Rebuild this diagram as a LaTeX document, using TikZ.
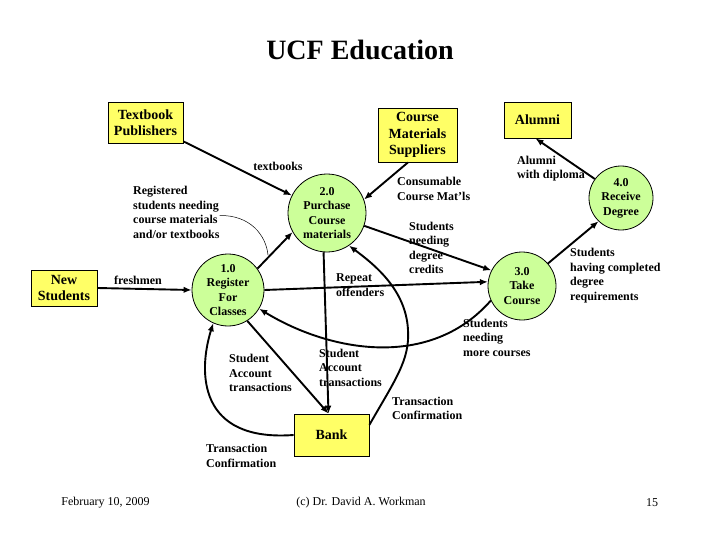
\documentclass[tikz,border=0pt]{standalone}
\usepackage{fontspec}
\setmainfont{Liberation Serif}
\usetikzlibrary{arrows.meta}
\definecolor{boxyellow}{HTML}{FFFF66}
\definecolor{procgreen}{HTML}{CCFF99}
\begin{document}
\begin{tikzpicture}[x=1pt,y=-1pt,
  lbl/.style={font=\fontsize{12}{14.5}\selectfont\bfseries, align=left, inner sep=0pt, anchor=west},
  extbox/.style={draw=black, line width=0.8pt, fill=boxyellow, font=\fontsize{14}{16.5}\selectfont\bfseries, align=center, inner sep=0pt},
  proc/.style={circle, draw=black, line width=0.8pt, fill=procgreen, font=\fontsize{12}{14.5}\selectfont\bfseries, align=center, inner sep=0pt},
  flow/.style={line width=1.9pt, -{Latex[length=8pt,width=6.5pt]}},
  footer/.style={font=\fontsize{12}{14}\selectfont, inner sep=0pt}]
\useasboundingbox (0,0) rectangle (720,540);
\fill[white] (0,0) rectangle (720,540);

\node[font=\fontsize{28}{32}\selectfont\bfseries] (title) at (360,50) {UCF Education};

% external entities
\node[extbox, minimum width=75pt, minimum height=41pt] (tp) at (145.5,122.5) {Textbook\\Publishers};
\node[extbox, minimum width=79pt, minimum height=54pt] (cms) at (417.5,135) {Course\\Materials\\Suppliers};
\node[extbox, minimum width=67pt, minimum height=36pt] (al) at (537.5,120) {Alumni};
\node[extbox, minimum width=66pt, minimum height=36pt] (ns) at (64,288) {New\\Students};
\node[extbox, minimum width=75pt, minimum height=42pt] (bank) at (331.5,435) {Bank};

% processes
\node[proc, minimum size=78pt] (p2) at (327,213) {2.0\\Purchase\\Course\\materials};
\node[proc, minimum size=72pt] (p1) at (228,290) {1.0\\Register\\For\\Classes};
\node[proc, minimum size=68pt] (p3) at (522,286) {3.0\\Take\\Course};
\node[proc, minimum size=64pt] (p4) at (621,198) {4.0\\Receive\\Degree};

% labels
\node[lbl, anchor=center] (ltb) at (278,166) {textbooks};
\node[lbl] (lreg) at (133,212.5) {Registered\\students needing\\course materials\\and/or textbooks};
\node[lbl, anchor=center] (lfr) at (138,280) {freshmen};
\node[lbl] (lcm) at (397,189) {Consumable\\Course Mat'ls};
\node[lbl] (lsd) at (409,248) {Students\\needing\\degree\\credits};
\node[lbl] (lro) at (336,285) {Repeat\\offenders};
\node[lbl] (lal) at (517,168.5) {Alumni\\with diploma};
\node[lbl] (lsc) at (570,275.5) {Students\\having completed\\degree\\requirements};
\node[lbl] (lsm) at (463,337.5) {Students\\needing\\more courses};
\node[lbl] (lsa1) at (229,373) {Student\\Account\\transactions};
\node[lbl] (lsa2) at (319,367.5) {Student\\Account\\transactions};
\node[lbl] (ltc1) at (392,408.5) {Transaction\\Confirmation};
\node[lbl] (ltc2) at (206,456) {Transaction\\Confirmation};

% footer
\node[footer] (fdate) at (105.5,503) {February 10, 2009};
\node[footer] (fauth) at (361,503) {(c) Dr. David A. Workman};
\node[footer] (fpage) at (652,503) {15};

% flows
\draw[flow] (tp) -- (p2);
\draw[flow] ([xshift=-9.5pt]cms.south) -- (p2.20);
\draw[flow] (p4.144) -- ([xshift=-2pt]al.south);
\draw[flow] (p3.41) -- (p4.226);
\draw[flow] (ns.east) -- (p1.west);
\draw[flow] (p1.36) -- (p2.209);
\coordinate (ptr) at (268,255);
\draw[line width=0.5pt] ([yshift=-3pt]lreg.east) .. controls (250,215) and (266,235) .. (ptr);
\draw[flow] (p2.341) -- (p3.153);
\draw[flow] (p1.0) -- (p3.173);
\draw[flow] (p3.205) .. controls (430,370) and (330,352) .. (p1.329);
\draw[flow] (p2.265) -- ([xshift=-3pt]bank.north);
\draw[flow] (p1.302) -- ([xshift=-3pt]bank.north);
\draw[flow] (bank.west) .. controls (198,442) and (198,372) .. (p1.246);
\draw[flow] (bank.15) .. controls (395,380) and (410,360) .. (408,330) .. controls (406,290) and (375,265) .. (p2.304);
\end{tikzpicture}
\end{document}
